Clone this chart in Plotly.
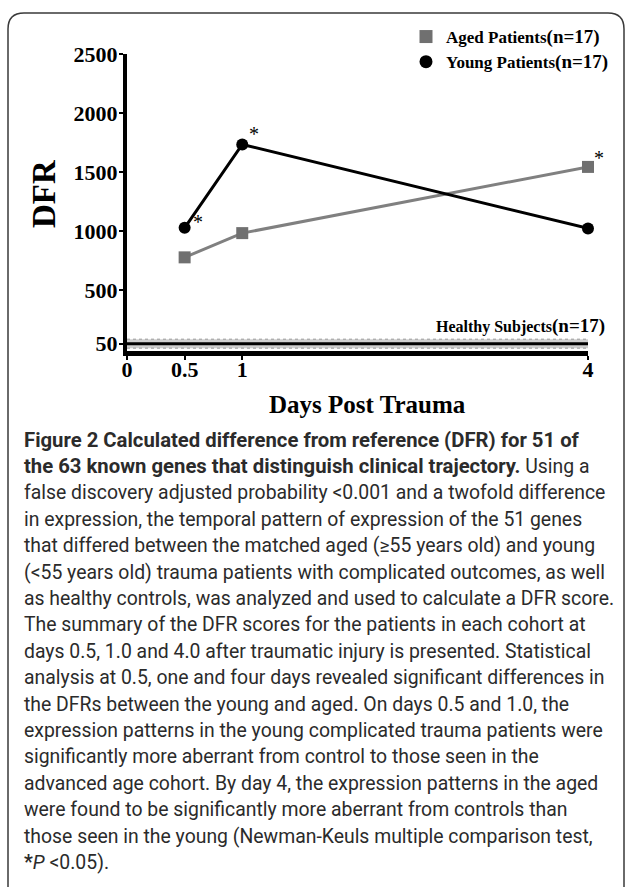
import plotly.graph_objects as go

# ---------------- data ----------------
days = [0.5, 1, 4]
aged_dfr = [780, 985, 1545]
young_dfr = [1030, 1735, 1025]
healthy_x = [0, 4]
healthy_mean = [50, 50]
healthy_low = [12, 12]
healthy_high = [88, 88]
x_tickvals = [0, 0.5, 1, 4]
x_ticktext = ["0", "0.5", "1", "4"]
y_tickvals = [50, 500, 1000, 1500, 2000, 2500]
y_ticktext = ["50", "500", "1000", "1500", "2000", "2500"]
aged_sig = [False, False, True]
young_sig = [True, True, False]

B = '<span style="font-size:20.3px"><b>'
BE = '</b></span>'
caption_lines = [
    B + "Figure 2 Calculated difference from reference (DFR) for 51 of" + BE,
    B + "the 63 known genes that distinguish clinical trajectory." + BE + " Using a",
    "false discovery adjusted probability <0.001 and a twofold difference",
    "in expression, the temporal pattern of expression of the 51 genes",
    "that differed between the matched aged (≥55 years old) and young",
    "(<55 years old) trauma patients with complicated outcomes, as well",
    "as healthy controls, was analyzed and used to calculate a DFR score.",
    "The summary of the DFR scores for the patients in each cohort at",
    "days 0.5, 1.0 and 4.0 after traumatic injury is presented. Statistical",
    "analysis at 0.5, one and four days revealed significant differences in",
    "the DFRs between the young and aged. On days 0.5 and 1.0, the",
    "expression patterns in the young complicated trauma patients were",
    "significantly more aberrant from control to those seen in the",
    "advanced age cohort. By day 4, the expression patterns in the aged",
    "were found to be significantly more aberrant from controls than",
    "those seen in the young (Newman-Keuls multiple comparison test,",
    "<b>*</b><i>P</i> <0.05).",
]

# ---------------- layout geometry (pixels) ----------------
W, H = 629, 887
L, R_PX, T, B_PX = 127, 588, 54, 351
pw, ph = R_PX - L, B_PX - T


def px(xp):
    return (xp - L) / pw


def py(yp):
    return (B_PX - yp) / ph


SERIF = "Liberation Serif"
SANS = "Roboto"
AGED_C = "#707070"
AGED_L = "#808080"

fig = go.Figure()

# healthy band
fig.add_trace(go.Scatter(x=healthy_x, y=healthy_low, mode="lines",
                         line=dict(color="#9a9a9a", width=1, dash="dot"),
                         showlegend=False, hoverinfo="skip"))
fig.add_trace(go.Scatter(x=healthy_x, y=healthy_high, mode="lines", fill="tonexty",
                         fillcolor="#cfcfcf",
                         line=dict(color="#9a9a9a", width=1, dash="dot"),
                         showlegend=False, hoverinfo="skip"))
fig.add_trace(go.Scatter(x=healthy_x, y=healthy_mean, mode="lines",
                         line=dict(color="black", width=3),
                         showlegend=False, hoverinfo="skip"))

# series
fig.add_trace(go.Scatter(x=days, y=aged_dfr, mode="lines+markers",
                         line=dict(color=AGED_L, width=3),
                         marker=dict(symbol="square", size=12, color=AGED_C),
                         cliponaxis=False, showlegend=False))
fig.add_trace(go.Scatter(x=days, y=young_dfr, mode="lines+markers",
                         line=dict(color="black", width=3),
                         marker=dict(symbol="circle", size=12, color="black"),
                         cliponaxis=False, showlegend=False))

# legend-only entries
fig.add_trace(go.Scatter(x=[None], y=[None], mode="markers",
                         marker=dict(symbol="square", size=13, color=AGED_C),
                         name='Aged Patients<span style="font-size:19px">(n=17)</span>'))
fig.add_trace(go.Scatter(x=[None], y=[None], mode="markers",
                         marker=dict(symbol="circle", size=13, color="black"),
                         name='Young Patients<span style="font-size:19px">(n=17)</span>'))

annotations = []
# significance stars
star_offsets_young = [(13, 6), (12, 10), (0, 0)]
star_offsets_aged = [(0, 0), (0, 0), (11, 9)]
for i, s in enumerate(young_sig):
    if s:
        annotations.append(dict(x=days[i], y=young_dfr[i], xref="x", yref="y", text="*",
                                showarrow=False, xshift=star_offsets_young[i][0],
                                yshift=star_offsets_young[i][1],
                                font=dict(family=SERIF, size=20, color="black")))
for i, s in enumerate(aged_sig):
    if s:
        annotations.append(dict(x=days[i], y=aged_dfr[i], xref="x", yref="y", text="*",
                                showarrow=False, xshift=star_offsets_aged[i][0],
                                yshift=star_offsets_aged[i][1],
                                font=dict(family=SERIF, size=20, color="black")))

# healthy label
annotations.append(dict(x=px(607), y=py(326), xref="paper", yref="paper",
                        xanchor="right", yanchor="middle", showarrow=False,
                        text='Healthy Subjects<span style="font-size:19px">(n=17)</span>',
                        font=dict(family=SERIF, size=16, color="black", weight="bold")))
# axis titles
annotations.append(dict(x=px(44), y=py(194), xref="paper", yref="paper",
                        xanchor="center", yanchor="middle", showarrow=False, textangle=-90,
                        text="DFR", font=dict(family=SERIF, size=33, color="black", weight="bold")))
annotations.append(dict(x=px(367), y=py(404), xref="paper", yref="paper",
                        xanchor="center", yanchor="middle", showarrow=False,
                        text="Days Post Trauma",
                        font=dict(family=SERIF, size=25, color="black", weight="bold")))
# caption
for i, line in enumerate(caption_lines):
    annotations.append(dict(x=px(22), y=py(440 + 26.4 * i), xref="paper", yref="paper",
                            xanchor="left", yanchor="middle", showarrow=False,
                            text=line, font=dict(family=SANS, size=19.4, color="#2b2b2b")))

# box border with rounded corners
x0, x1 = px(8), px(624)
y0, y1 = py(13), py(940)
rx, ry = 16 / pw, 16 / ph
path = (f"M {x0},{y1} L {x0},{y0 - ry} Q {x0},{y0} {x0 + rx},{y0} "
        f"L {x1 - rx},{y0} Q {x1},{y0} {x1},{y0 - ry} L {x1},{y1}")
shapes = [dict(type="path", path=path, xref="paper", yref="paper",
               line=dict(color="#3a3a3a", width=1.5))]

fig.update_layout(
    width=W, height=H,
    margin=dict(l=L, r=W - R_PX, t=T, b=H - B_PX, pad=0),
    paper_bgcolor="white", plot_bgcolor="white",
    showlegend=True,
    legend=dict(x=px(406), y=py(19), xanchor="left", yanchor="top",
                bgcolor="rgba(0,0,0,0)", borderwidth=0, traceorder="normal",
                font=dict(family=SERIF, size=17, color="black", weight="bold"),
                itemwidth=30, tracegroupgap=0),
    xaxis=dict(range=[0, 4], showgrid=False, zeroline=False, showline=True,
               linecolor="black", linewidth=5, ticks="outside", ticklen=4, tickwidth=2,
               tickcolor="black", tickvals=x_tickvals, ticktext=x_ticktext,
               ticklabelstandoff=-9,
               tickfont=dict(family=SERIF, size=22, color="black", weight="bold")),
    yaxis=dict(range=[-12, 2500], showgrid=False, zeroline=False, showline=True,
               linecolor="black", linewidth=4, ticks="outside", ticklen=4, tickwidth=2,
               tickcolor="black", tickvals=y_tickvals, ticktext=y_ticktext,
               ticklabelstandoff=-3,
               tickfont=dict(family=SERIF, size=22, color="black", weight="bold")),
    annotations=annotations,
    shapes=shapes,
)

fig.write_html("out.html")
